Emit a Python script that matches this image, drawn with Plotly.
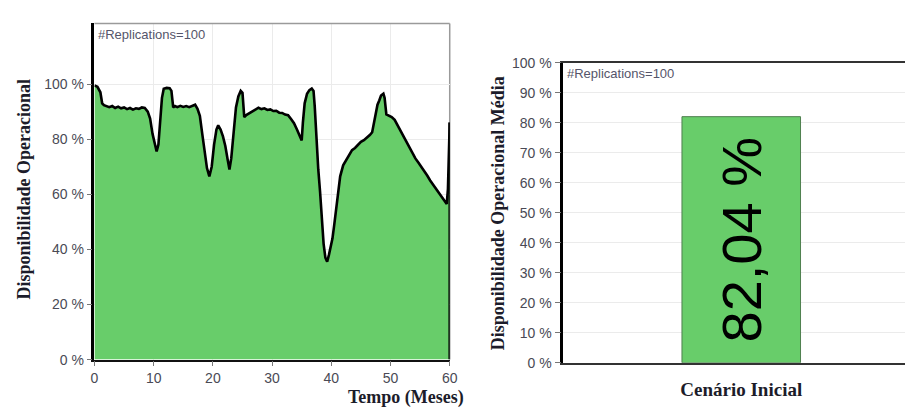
import plotly.graph_objects as go

# ---- data -------------------------------------------------------------
months = [0, 0.5, 1.0, 1.3, 1.6, 2, 2.5, 3, 3.5, 4, 4.5, 5, 5.5, 6, 6.5, 7, 7.5, 8, 8.5, 9,
          9.4, 9.8, 10.2, 10.5, 10.8, 11.1, 11.4, 11.7, 12.2, 12.7, 13.0, 13.3, 13.6, 14, 14.5,
          15, 15.5, 16, 16.5, 17, 17.4, 17.8, 18.2, 18.6, 19.0, 19.4, 19.8, 20.2, 20.6, 20.9,
          21.3, 21.7, 22.1, 22.5, 22.8, 23.1, 23.5, 23.9, 24.3, 24.7, 25.0, 25.3, 25.7, 26.2,
          26.7, 27.2, 27.7, 28.2, 28.7, 29.2, 29.7, 30.2, 30.7, 31.2, 31.7, 32.2, 32.7, 33.2,
          33.7, 34.2, 34.6, 35.0, 35.2, 35.5, 35.9, 36.3, 36.7, 37.0, 37.2, 37.5, 37.8, 38.1,
          38.4, 38.7, 39.0, 39.3, 39.6, 39.9, 40.2, 40.5, 40.8, 41.1, 41.5, 42, 42.5, 43, 43.5,
          44, 44.5, 45, 45.5, 46, 46.5, 46.9, 47.2, 47.5, 47.8, 48.1, 48.4, 48.8, 49.0, 49.3,
          49.7, 50.2, 50.7, 51.2, 51.7, 52.2, 52.7, 53.2, 53.7, 54.2, 54.7, 55.2, 55.7, 56.2,
          56.7, 57.2, 57.7, 58.2, 58.7, 59.2, 59.5, 59.7, 59.85, 60]

availability = [99.5, 99, 97, 93, 92.3, 92, 91.6, 92, 91.3, 91.8, 91.2, 91.5, 90.9, 91.3, 90.7,
                91.2, 91, 91.5, 91.3, 90, 87.5, 82, 77.5, 75.5, 78, 88, 95, 98.3, 98.6, 98.5,
                97.5, 91.5, 92, 91.6, 92.1, 91.7, 92, 91.6, 92.2, 92.5, 91, 88.5, 82, 75, 69.5,
                66.5, 70, 78, 83.5, 85, 83.5, 81, 77.5, 72.5, 69, 73, 84, 91.5, 95.5, 97.5,
                96.8, 88, 88.8, 89.5, 90.2, 90.8, 91.4, 90.9, 91.2, 90.6, 90.8, 90.2, 90.3,
                89.6, 89.5, 88.9, 88.7, 87.3, 85.8, 83.5, 81.5, 79.5, 86, 93, 96.5, 97.8, 98.4,
                97.5, 92, 79, 69, 61, 52, 42, 37, 35.5, 38, 41, 44, 49, 55, 61, 66.5, 70.5,
                72.5, 74.5, 76, 76.8, 78, 79, 79.6, 80.5, 81.5, 82.5, 85.5, 89.5, 92.5, 94,
                95.8, 96.5, 95, 89, 88.6, 88, 87, 85, 82.5, 80.5, 78.5, 76.5, 74.5, 73, 71.5,
                70, 68.5, 66.8, 65, 63.5, 62, 60.5, 59, 57.5, 56.5, 62, 72, 86]

scenarios = ["Cenário Inicial"]
mean_availability = [82.04]

left_ticks = [0, 20, 40, 60, 80, 100]
right_ticks = [0, 10, 20, 30, 40, 50, 60, 70, 80, 90, 100]
month_ticks = [0, 10, 20, 30, 40, 50, 60]

# ---- styling -------------------------------------------------------------
GREEN = "#68cd6a"
TICK_FONT = dict(family="Liberation Sans, Arial", size=14, color="#4a4a55")
TITLE_FONT = dict(family="Liberation Serif, Times New Roman", size=18, color="#1c1c2a")
GRID = "#ebebeb"


def pct(v):
    return f"{v} %"


fig = go.Figure()

# availability over time (filled area with black outline)
fig.add_trace(go.Scatter(
    x=months, y=availability, mode="lines", fill="tozeroy",
    fillcolor=GREEN, line=dict(color="black", width=2.6),
    xaxis="x", yaxis="y", showlegend=False, hoverinfo="x+y"))

# closing edge of the area at the last month
fig.add_trace(go.Scatter(
    x=[months[-1], months[-1]], y=[0, availability[-1]], mode="lines",
    line=dict(color="black", width=2.6), xaxis="x", yaxis="y",
    showlegend=False, hoverinfo="skip"))

# mean availability bar
bar_labels = [f"{v:.2f}".replace(".", ",") + " %" for v in mean_availability]
fig.add_trace(go.Bar(
    x=scenarios, y=mean_availability, width=0.333,
    marker=dict(color=GREEN, line=dict(color="#4f7f4f", width=1)),
    text=bar_labels, textposition="inside", textangle=-90,
    insidetextanchor="middle",
    textfont=dict(family="Liberation Sans, Arial", size=56, color="black"),
    xaxis="x2", yaxis="y2", showlegend=False))

fig.update_layout(
    width=913, height=415,
    margin=dict(l=0, r=0, t=0, b=0),
    paper_bgcolor="white", plot_bgcolor="white",
    xaxis=dict(
        domain=[0.1004, 0.4947], range=[0, 60],
        tickvals=month_ticks, ticktext=[str(v) for v in month_ticks],
        showgrid=True, gridcolor=GRID, gridwidth=1,
        showline=True, linecolor="#111111", linewidth=1.5,
        ticks="outside", ticklen=5, tickcolor="#777777",
        tickfont=TICK_FONT, zeroline=False),
    yaxis=dict(
        domain=[0.1188, 0.9614], range=[0, 122],
        tickvals=left_ticks, ticktext=[pct(v) for v in left_ticks],
        showgrid=True, gridcolor=GRID, gridwidth=1,
        showline=True, linecolor="black", linewidth=2.5,
        ticks="outside", ticklen=5, tickcolor="#777777",
        tickfont=TICK_FONT, zeroline=False),
    xaxis2=dict(
        domain=[0.6207, 1.0], range=[-0.5, 0.46], anchor="y2",
        showgrid=False, showline=True, linecolor="#333333", linewidth=1.5,
        mirror=True, ticks="", ticklabelstandoff=9,
        tickfont=dict(family="Liberation Serif, Times New Roman", size=19,
                      color="#1c1c2a", weight="bold")),
    yaxis2=dict(
        domain=[0.1108, 0.8627], range=[0, 100], anchor="x2",
        tickvals=right_ticks, ticktext=[pct(v) for v in right_ticks],
        showgrid=True, gridcolor=GRID, gridwidth=1,
        showline=True, linecolor="black", linewidth=2.5,
        ticks="outside", ticklen=6, tickcolor="#777777",
        tickfont=TICK_FONT, zeroline=False),
    shapes=[
        # light frame on top and right of the time plot
        dict(type="line", xref="x domain", yref="y domain", x0=0, x1=1, y0=1, y1=1,
             line=dict(color="#9a9a9a", width=1.5)),
        dict(type="line", xref="x domain", yref="y domain", x0=1, x1=1, y0=0, y1=1,
             line=dict(color="#9a9a9a", width=1.5), layer="below"),
    ],
    annotations=[
        dict(text="#Replications=100", xref="x domain", yref="y domain", x=0.005, y=0.966,
             xanchor="left", yanchor="middle", showarrow=False,
             font=dict(family="Liberation Sans, Arial", size=13, color="#55556a")),
        dict(text="#Replications=100", xref="x2 domain", yref="y2 domain", x=0.005, y=0.965,
             xanchor="left", yanchor="middle", showarrow=False,
             font=dict(family="Liberation Sans, Arial", size=13, color="#55556a")),
        dict(text="<b>Tempo (Meses)</b>", xref="paper", yref="paper", x=0.5126, y=0.024,
             xanchor="right", yanchor="middle", showarrow=False, font=TITLE_FONT),
        dict(text="<b>Disponibilidade Operacional</b>", xref="paper", yref="paper",
             x=0.0219, y=0.547, textangle=-90, xanchor="center", yanchor="middle",
             showarrow=False, font=TITLE_FONT),
        dict(text="<b>Disponibilidade Operacional Média</b>", xref="paper", yref="paper",
             x=0.5477, y=0.4867, textangle=-90, xanchor="center", yanchor="middle",
             showarrow=False, font=TITLE_FONT),
    ],
)

fig.write_html("out.html")
